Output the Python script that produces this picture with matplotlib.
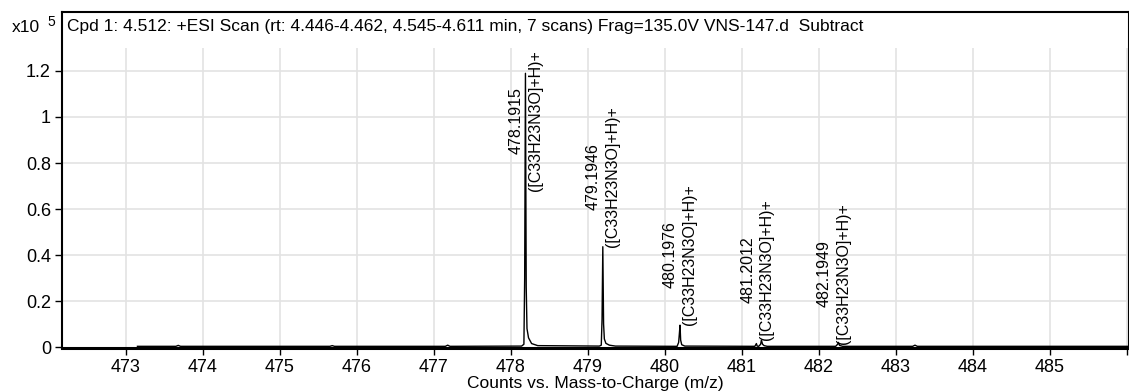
import matplotlib
matplotlib.use('Agg')
import matplotlib.pyplot as plt

plt.rcParams['font.family'] = ['Liberation Sans', 'DejaVu Sans']

# labelled peaks
peak_mz = [478.1915, 479.1946, 480.1976, 481.2012, 482.1949]
peak_int = [1.19, 0.436, 0.095, 0.03, 0.015]
peak_formula = '([C33H23N3O]+H)+'

# profile trace (m/z, counts x10^5)
trace_mz = [473.15, 473.65, 473.68, 473.71, 475.65, 475.68, 475.71, 477.15, 477.18, 477.21,
            478.14, 478.17, 478.18, 478.19, 478.20, 478.21, 478.23, 478.27, 478.35,
            479.15, 479.175, 479.185, 479.195, 479.205, 479.215, 479.235, 479.28, 479.36,
            480.16, 480.18, 480.19, 480.198, 480.206, 480.22, 480.26,
            481.17, 481.19, 481.20, 481.22, 481.245, 481.255, 481.27, 481.29, 481.33,
            482.22, 482.245, 482.255, 482.27, 482.31,
            483.22, 483.25, 483.28, 486.1]
trace_int = [0.003, 0.003, 0.007, 0.003, 0.003, 0.006, 0.003, 0.003, 0.008, 0.003,
             0.004, 0.012, 0.30, 1.19, 0.26, 0.08, 0.04, 0.015, 0.006,
             0.004, 0.008, 0.12, 0.436, 0.10, 0.035, 0.016, 0.008, 0.004,
             0.003, 0.02, 0.06, 0.095, 0.03, 0.01, 0.004,
             0.003, 0.015, 0.004, 0.003, 0.012, 0.03, 0.012, 0.006, 0.003,
             0.003, 0.012, 0.02, 0.007, 0.003,
             0.003, 0.008, 0.003, 0.003]

xticks = list(range(473, 487))
yticks = [0, 0.2, 0.4, 0.6, 0.8, 1.0, 1.2]
ytick_labels = ['0', '0.2', '0.4', '0.6', '0.8', '1', '1.2']

fig = plt.figure(figsize=(11.29, 3.92), dpi=100)
ax = fig.add_axes([62 / 1129, 1 - 348 / 392, 1 - 62 / 1129, 336 / 392])
ax.set_xlim(472.17, 486.03)
ax.set_ylim(-0.0043, 1.4565)

grid_top = 1.3
ax.vlines(xticks, 0, grid_top, color='#e3e3e3', lw=1.2, zorder=0)
ax.hlines(yticks[1:], 472.17, 486.03, color='#e3e3e3', lw=1.2, zorder=0)

ax.plot(trace_mz, trace_int, color='black', lw=1.0, zorder=3)

for mz, h in zip(peak_mz, peak_int):
    y = min(h, 0.68)
    ax.text(mz, y, f'{mz:.4f}\n{peak_formula}', rotation=90, ha='center', va='bottom',
            multialignment='center', fontsize=11.5, linespacing=1.35, zorder=4)

ax.set_xticks(xticks)
ax.set_xticklabels([str(t) for t in xticks[:-1]] + [''])
ax.set_yticks(yticks)
ax.set_yticklabels(ytick_labels)
ax.tick_params(labelsize=13, length=5, width=1, direction='out', pad=3)

for s in ['top', 'right']:
    ax.spines[s].set_linewidth(1.5)
ax.spines['left'].set_linewidth(1.5)
ax.spines['bottom'].set_linewidth(2.2)

ax.set_xlabel('Counts vs. Mass-to-Charge (m/z)', fontsize=12.5, labelpad=0)

fig.text(67 / 1129, 1 - 27 / 392,
         'Cpd 1: 4.512: +ESI Scan (rt: 4.446-4.462, 4.545-4.611 min, 7 scans) Frag=135.0V VNS-147.d  Subtract',
         fontsize=12.5, va='center', ha='left')
fig.text(12 / 1129, 1 - 28 / 392, 'x10', fontsize=12.5, va='center', ha='left')
fig.text(47 / 1129, 1 - 22 / 392, '5', fontsize=10, va='center', ha='left')

fig.savefig('out.png', dpi=100)
